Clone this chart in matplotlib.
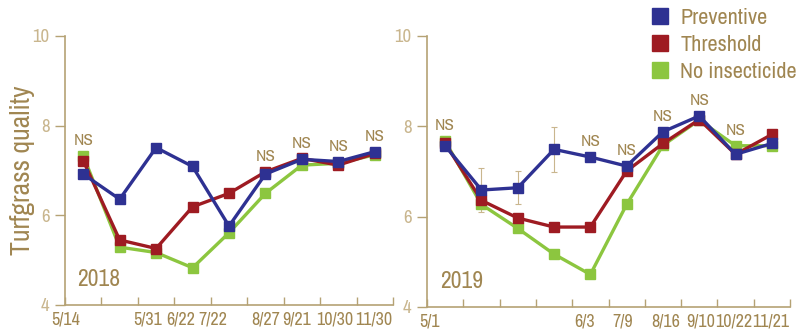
import matplotlib
matplotlib.use("Agg")
import matplotlib.pyplot as plt
from matplotlib.lines import Line2D
import numpy as np

# 2018 season
dates_2018 = ["5/14", "5/31", "6/22", "7/22", "8/27", "9/21", "10/30", "11/30"]
preventive_2018 = [6.92, 6.36, 7.51, 7.09, 5.76, 6.92, 7.25, 7.20, 7.42]
threshold_2018 = [7.22, 5.45, 5.26, 6.19, 6.49, 6.97, 7.27, 7.12, 7.38]
noinsect_2018 = [7.33, 5.29, 5.17, 4.83, 5.61, 6.49, 7.12, 7.16, 7.35]
ns_2018 = [0, 5, 6, 7, 8]

# 2019 season
dates_2019 = ["5/1", "6/3", "7/9", "8/16", "9/10", "10/22", "11/21"]
preventive_2019 = [7.57, 6.59, 6.64, 7.49, 7.32, 7.12, 7.88, 8.23, 7.38, 7.62]
threshold_2019 = [7.62, 6.36, 5.97, 5.77, 5.77, 7.01, 7.62, 8.15, 7.38, 7.82]
noinsect_2019 = [7.67, 6.27, 5.74, 5.17, 4.72, 6.27, 7.58, 8.14, 7.57, 7.57]
ns_2019 = [0, 4, 5, 6, 7, 8]
err_idx_2019 = [1, 2, 3]
err_2019 = [0.49, 0.37, 0.50]

# where the date labels sit along each axis (the original places them unevenly)
label_pos_2018 = [0.03, 2.27, 3.18, 4.05, 5.5, 6.36, 7.4, 8.47]
label_pos_2019 = [0.08, 4.34, 5.4, 6.57, 7.53, 8.44, 9.48]

BLUE = "#2e3192"
RED = "#9e1b22"
GREEN = "#8cc63f"
TAN = "#a08651"
TAN_LIGHT = "#c9b68e"
SPINE = "#b5a274"
FONT = ["Archivo Narrow", "Roboto Condensed", "Liberation Sans Narrow", "DejaVu Sans"]

plt.rcParams["font.family"] = FONT

fig = plt.figure(figsize=(8, 3.33), dpi=100)
ax1 = fig.add_axes([0.08125, 0.0841, 0.41, 0.8078])
ax2 = fig.add_axes([0.53375, 0.0781, 0.45375, 0.8138])


def draw_panel(ax, prev, thr, noins, ns_idx, dates, label_pos, year):
    n = len(prev)
    x = np.arange(n) + 0.5
    for vals, col, z in [(noins, GREEN, 3), (thr, RED, 4), (prev, BLUE, 5)]:
        ax.plot(x, vals, color=col, lw=2.4, marker="s", ms=7, mec=col, zorder=z)
    top = np.max([prev, thr, noins], axis=0)
    for i in ns_idx:
        ax.annotate("NS", (x[i], top[i]), xytext=(0, 11), textcoords="offset points",
                    ha="center", va="center", fontsize=12.5, color=TAN)
    ax.set_xlim(0, n)
    ax.set_ylim(4, 10)
    ax.set_yticks([4, 6, 8, 10])
    ax.set_xticks(np.arange(n + 1))
    ax.set_xticklabels([])
    ax.tick_params(axis="x", direction="in", length=6, width=1, colors=SPINE)
    ax.tick_params(axis="y", direction="out", length=7, width=1, colors=SPINE,
                   labelcolor=TAN_LIGHT, labelsize=13.5, pad=4)
    for s in ["top", "right"]:
        ax.spines[s].set_visible(False)
    for s in ["left", "bottom"]:
        ax.spines[s].set_color(SPINE)
        ax.spines[s].set_linewidth(1.2)
    for pos, lab in zip(label_pos, dates):
        ax.text(pos, -0.055, lab, transform=ax.get_xaxis_transform(), ha="center",
                va="center", fontsize=13, color=TAN)
    ax.text(0.037, 0.07, year, transform=ax.transAxes, fontsize=17, color=TAN,
            ha="left", va="baseline")
    return x


draw_panel(ax1, preventive_2018, threshold_2018, noinsect_2018, ns_2018,
           dates_2018, label_pos_2018, "2018")
x2 = draw_panel(ax2, preventive_2019, threshold_2019, noinsect_2019, ns_2019,
                dates_2019, label_pos_2019, "2019")
ax2.errorbar(x2[err_idx_2019], np.array(preventive_2019)[err_idx_2019], yerr=err_2019,
             fmt="none", ecolor=TAN_LIGHT, elinewidth=0.8, capsize=2.5, capthick=0.8,
             zorder=2)

ax1.set_ylabel("Turfgrass quality", fontsize=20, color=TAN, va="center")
ax1.yaxis.set_label_coords(-0.131, 0.5)

handles = [Line2D([], [], ls="none", marker="s", ms=11, color=c, mec=c)
           for c in (BLUE, RED, GREEN)]
fig.legend(handles, ["Preventive", "Threshold", "No insecticide"],
           loc="upper left", bbox_to_anchor=(0.81, 0.982), frameon=False,
           fontsize=16, labelcolor=TAN, handlelength=0.9, handletextpad=0.45,
           labelspacing=0.3, borderaxespad=0, borderpad=0.1)

fig.savefig("out.png", dpi=100)
